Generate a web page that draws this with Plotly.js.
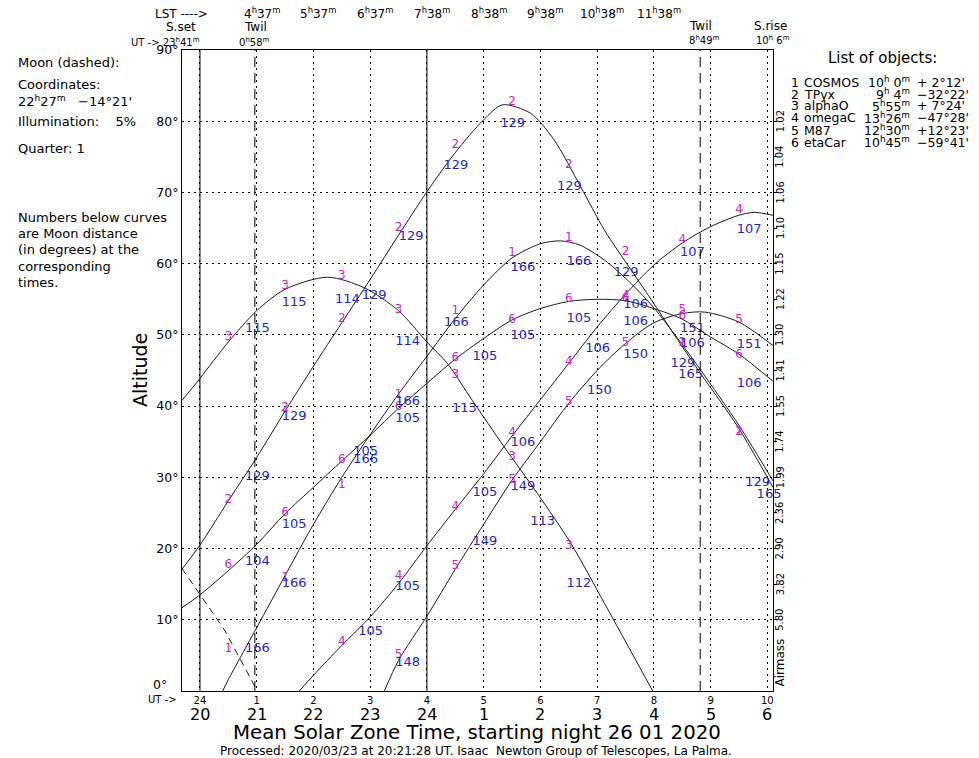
<!DOCTYPE html>
<html><head><meta charset="utf-8">
<script src="https://cdn.plot.ly/plotly-3.0.1.min.js"></script>
<style>html,body{margin:0;padding:0;background:#fff}#chart{width:979px;height:758px}</style>
</head><body><div id="chart"></div>
<script>
// ---------------- data ----------------
const utTicks = [0,1,2,3,4,5,6,7,8,9,10];
const utTickText = ['24','1','2','3','4','5','6','7','8','9','10'];
const localTimeText = ['20','21','22','23','24','1','2','3','4','5','6'];
const lstUT = [1,2,3,4,5,6,7,8];
const lstText = ['4<sup>h</sup>37<sup>m</sup>','5<sup>h</sup>37<sup>m</sup>','6<sup>h</sup>37<sup>m</sup>','7<sup>h</sup>38<sup>m</sup>',
                 '8<sup>h</sup>38<sup>m</sup>','9<sup>h</sup>38<sup>m</sup>','10<sup>h</sup>38<sup>m</sup>','11<sup>h</sup>38<sup>m</sup>'];
const altTicks = [0,10,20,30,40,50,60,70,80,90];
const altTickText = ['0°','10°','20°','30°','40°','50°','60°','70°','80°','90°'];
const airmassAlt = [80,75,70,65,60,55,50,45,40,35,30,25,20,15,10];
const airmassText = ['1.02','1.04','1.06','1.10','1.15','1.22','1.30','1.41','1.55','1.74','1.99','2.36','2.90','3.82','5.80'];
const sunsetUT = -0.317, sunriseUT = 10.1, twilEveUT = 0.967, twilMornUT = 8.817;
const midnightLines = [0, 4];

const objNum  = ['1','2','3','4','5','6'];
const objName = ['COSMOS','TPyx','alphaO','omegaC','M87','etaCar'];
const objRA   = ['10<sup>h</sup> 0<sup>m</sup>','9<sup>h</sup> 4<sup>m</sup>','5<sup>h</sup>55<sup>m</sup>','13<sup>h</sup>26<sup>m</sup>','12<sup>h</sup>30<sup>m</sup>','10<sup>h</sup>45<sup>m</sup>'];
const objDec  = ["+ 2°12'","−32°22'","+ 7°24'","−47°28'","+12°23'","−59°41'"];

// altitude curves (UT hours, degrees)
const ut1  = [0.4,0.5,1.0,1.5,2.0,2.5,3.0,3.5,4.0,4.5,5.0,5.5,6.0,6.36,6.7,7.13,7.6,8.0,8.42,8.83,9.5,10.1];
const alt1 = [0,1.6,8.9,16.2,23.4,30.0,36.0,41.7,47.0,52.3,57.0,60.8,62.8,63.2,62.6,60.5,57.2,53.8,49.5,45.0,37.3,29.5];
const ut2  = [-0.317,0,0.5,1.0,1.5,2.0,2.5,3.0,3.5,4.0,4.5,5.0,5.33,5.83,6.24,6.71,7.13,7.6,8.0,8.42,8.83,9.48,10.1];
const alt2 = [17.1,20.5,26.7,32.8,39.3,45.6,51.7,57.8,64.0,70.1,75.6,80.2,82.3,81.1,77.4,70.8,64.7,59.1,54.4,49.3,44.5,37.1,28.6];
const ut3  = [-0.317,0,0.5,1.0,1.5,2.25,2.9,3.5,4.0,4.36,4.8,5.36,5.95,6.54,7.13,7.98];
const alt3 = [40.8,43.9,49.0,53.4,56.4,58.1,56.6,53.4,49.0,46.0,40.8,34.3,27.7,20.7,12.3,0];
const ut4  = [1.75,2.0,2.5,3.0,3.5,4.0,4.5,5.0,5.5,6.0,6.5,7.0,7.5,8.0,8.5,9.0,9.5,9.77,10.1];
const alt4 = [0,2.2,6.4,10.4,15.1,20.4,25.5,30.5,35.8,40.9,46.0,51.1,55.7,59.8,62.9,65.2,66.8,67.2,66.8];
const ut5  = [3.25,3.5,4.0,4.5,5.0,5.5,6.0,6.5,7.0,7.5,8.0,8.5,8.9,9.5,10.1];
const alt5 = [0,4.3,10.5,17.1,23.4,29.6,35.0,40.4,45.0,48.8,51.7,53.0,53.2,51.8,48.5];
const ut6  = [-0.317,0,0.5,1.0,1.5,2.0,2.5,3.0,3.5,4.0,4.5,5.0,5.5,6.0,6.5,7.0,7.5,8.0,8.5,9.0,9.5,10.1];
const alt6 = [11.7,13.5,16.9,20.6,24.9,28.6,32.3,35.9,39.7,43.2,46.6,49.5,52.1,53.7,54.7,55.0,54.8,53.7,52.2,49.7,47.3,43.5];
const utMoon  = [-0.317,0,0.43,0.72,1.01];
const altMoon = [17.2,13.5,8.6,4.3,0];

// object-number labels along curves
const lab1UT = [0.5,1.5,2.5,3.5,4.5,5.5,6.5,8.5,9.5];
const lab1Alt = [5.9,15.8,28.9,41.6,53.3,61.5,63.6,48.8,36.4];
const lab2UT = [0.5,1.5,2.5,3.5,4.5,5.5,6.5,7.5,8.5,9.5];
const lab2Alt = [26.8,39.7,52.2,65.0,76.7,82.7,73.9,61.7,48.8,36.4];
const lab3UT = [0.5,1.5,2.5,3.5,4.5,5.5,6.5];
const lab3Alt = [49.7,56.9,58.3,53.5,44.4,32.8,20.3];
const lab4UT = [2.5,3.5,4.5,5.5,6.5,7.5,8.5,9.5];
const lab4Alt = [6.9,16.1,25.9,36.2,46.2,55.4,63.3,67.5];
const lab5UT = [3.5,4.5,5.5,6.5,7.5,8.5,9.5];
const lab5Alt = [5.1,17.5,29.6,40.6,48.8,53.5,52.1];
const lab6UT = [0.5,1.5,2.5,3.5,4.5,5.5,6.5,7.5,8.5,9.5];
const lab6Alt = [17.7,25.0,32.5,39.9,46.7,52.1,55.1,55.1,52.6,47.2];

// Moon distance labels (degrees)
const moon1UT = [1.01,1.66,2.92,3.66,4.52,5.69,6.68,8.65,10.03];
const moon1Alt = [6.0,15.1,32.4,40.6,51.7,59.4,60.3,44.4,27.5];
const moon1Txt = ['166','166','166','166','166','166','166','165','165'];
const moon2UT = [1.01,1.66,3.07,3.72,4.51,5.51,6.51,7.51,8.51,9.83];
const moon2Alt = [30.1,38.5,55.5,63.8,73.7,79.7,70.8,58.7,46.0,29.2];
const moon2Txt = ['129','129','129','129','129','129','129','129','129','129'];
const moon3UT = [1.01,1.66,2.6,3.66,4.66,6.04,6.68];
const moon3Alt = [50.9,54.5,55.0,49.1,39.6,23.8,15.1];
const moon3Txt = ['115','115','114','114','113','113','112'];
const moon4UT = [3.01,3.66,5.02,5.69,7.01,7.68,8.68,9.68];
const moon4Alt = [8.3,14.6,27.9,34.8,48.1,54.2,61.5,64.7];
const moon4Txt = ['105','105','105','106','106','106','107','107'];
const moon5UT = [3.66,5.02,5.69,7.04,7.68,8.68,9.68];
const moon5Alt = [3.9,20.9,28.7,42.2,47.2,50.9,48.6];
const moon5Txt = ['148','149','149','150','150','151','151'];
const moon6UT = [1.01,1.66,2.92,3.66,5.02,5.69,6.68,7.68,8.68,9.68];
const moon6Alt = [18.2,23.3,33.6,38.2,46.9,49.9,52.3,51.9,48.8,43.2];
const moon6Txt = ['104','105','105','105','105','105','105','106','106','106'];

// ---------------- styling / build ----------------
const FONT = 'DejaVu Sans, Liberation Sans, sans-serif';
const MAG = '#cc22cc', BLUE = '#2626b8', LINE = '#1a1a1a';
const L = 182, R = 773, T = 50, B = 691;
const PX = x => (x - L) / (R - L);
const PY = y => (B - y) / (B - T);

const curves = [[ut1,alt1],[ut2,alt2],[ut3,alt3],[ut4,alt4],[ut5,alt5],[ut6,alt6]];
const labs = [[lab1UT,lab1Alt],[lab2UT,lab2Alt],[lab3UT,lab3Alt],[lab4UT,lab4Alt],[lab5UT,lab5Alt],[lab6UT,lab6Alt]];
const moons = [[moon1UT,moon1Alt,moon1Txt],[moon2UT,moon2Alt,moon2Txt],[moon3UT,moon3Alt,moon3Txt],
               [moon4UT,moon4Alt,moon4Txt],[moon5UT,moon5Alt,moon5Txt],[moon6UT,moon6Alt,moon6Txt]];

const traces = [];
curves.forEach(c => traces.push({type:'scatter', mode:'lines', x:c[0], y:c[1],
  line:{color:LINE, width:1, shape:'spline', smoothing:0.8}, hoverinfo:'skip'}));
traces.push({type:'scatter', mode:'lines', x:utMoon, y:altMoon,
  line:{color:LINE, width:1, dash:'7px,5px'}, hoverinfo:'skip'});
labs.forEach((l,i) => traces.push({type:'scatter', mode:'text', x:l[0], y:l[1],
  text:l[0].map(()=>objNum[i]), textposition:'middle center', cliponaxis:false,
  textfont:{family:FONT, size:12, color:MAG}, hoverinfo:'skip'}));
moons.forEach(m => traces.push({type:'scatter', mode:'text', x:m[0], y:m[1], text:m[2],
  textposition:'middle center', cliponaxis:false,
  textfont:{family:FONT, size:13, color:BLUE}, hoverinfo:'skip'}));
// dummy trace for the right (airmass) tick axis
traces.push({type:'scatter', mode:'markers', x:[5], y:[45], yaxis:'y2', marker:{opacity:0}, hoverinfo:'skip'});

const shapes = [];
midnightLines.forEach(u => shapes.push({type:'line', xref:'x', yref:'paper', x0:u, x1:u, y0:0, y1:1, line:{color:'#000', width:1}}));
[twilEveUT, twilMornUT].forEach(u => shapes.push({type:'line', xref:'x', yref:'paper', x0:u, x1:u, y0:0, y1:1, line:{color:'#000', width:1, dash:'10px,6px'}}));

const ann = [];
function A(x, y, text, opts) { ann.push(Object.assign({xref:'paper', yref:'paper', x:PX(x), y:PY(y), text, showarrow:false,
  xanchor:'center', yanchor:'middle', font:{family:FONT, size:12, color:'#000'}}, opts||{})); }

// header
A(181, 14, 'LST ---->');
lstUT.forEach((u,i) => ann.push({xref:'x', yref:'paper', x:u, y:PY(13), xshift:5, text:lstText[i], showarrow:false,
  xanchor:'center', yanchor:'middle', font:{family:FONT, size:12, color:'#000'}}));
A(181, 27, 'S.set');
A(255, 27, 'Twil');
A(165, 42, 'UT -> 23<sup>h</sup>41<sup>m</sup>', {font:{family:FONT, size:10, color:'#000'}});
A(254, 42, '0<sup>h</sup>58<sup>m</sup>', {font:{family:FONT, size:10, color:'#000'}});
A(700, 26, 'Twil');
A(704, 40, '8<sup>h</sup>49<sup>m</sup>', {font:{family:FONT, size:10, color:'#000'}});
A(770, 26, 'S.rise');
A(773, 40, '10<sup>h</sup> 6<sup>m</sup>', {font:{family:FONT, size:10, color:'#000'}});

// left notes
const lf = {family:FONT, size:13, color:'#000'};
A(16, 62, 'Moon (dashed):', {xanchor:'left', font:lf});
A(16, 84, 'Coordinates:', {xanchor:'left', font:lf});
A(16, 101, "22<sup>h</sup>27<sup>m</sup>   −14°21'", {xanchor:'left', font:lf});
A(16, 122, 'Illumination:    5%', {xanchor:'left', font:lf});
A(16, 148, 'Quarter: 1', {xanchor:'left', font:lf});
['Numbers below curves','are Moon distance','(in degrees) at the','corresponding','times.'].forEach((t,i) =>
  A(16, 218 + i*16, t, {xanchor:'left', font:lf}));

// object list
A(882, 58, 'List of objects:', {font:{family:FONT, size:15, color:'#000'}});
const rowY = [82, 94, 106, 118, 130, 142];
objNum.forEach((n,i) => {
  const f = {family:FONT, size:12.5, color:'#000'};
  A(795, rowY[i], n, {font:f});
  A(802, rowY[i], objName[i], {xanchor:'left', font:f});
  A(912, rowY[i], objRA[i], {xanchor:'right', font:f});
  A(915, rowY[i], objDec[i], {xanchor:'left', font:f});
});

// axis extras
A(140, 370, 'Altitude', {textangle:-90, font:{family:FONT, size:19, color:'#000'}});
A(162, 700, 'UT ->', {font:{family:FONT, size:10, color:'#000'}});
localTimeText.forEach((t,i) => ann.push({xref:'x', yref:'paper', x:utTicks[i], y:PY(714), text:t, showarrow:false,
  xanchor:'center', yanchor:'middle', font:{family:FONT, size:16, color:'#000'}}));
A(477, 732, 'Mean Solar Zone Time, starting night 26 01 2020', {font:{family:FONT, size:19.8, color:'#000'}});
A(476, 751, 'Processed: 2020/03/23 at 20:21:28 UT. Isaac  Newton Group of Telescopes, La Palma.', {font:{family:FONT, size:12, color:'#000'}});
A(169, 684, altTickText[0], {xanchor:'right', font:{family:FONT, size:12.5, color:'#000'}});

// airmass labels
airmassAlt.forEach((a,i) => ann.push({xref:'paper', yref:'y', x:PX(780), y:a, text:airmassText[i], textangle:-90,
  showarrow:false, xanchor:'center', yanchor:'middle', font:{family:FONT, size:10, color:'#000'}}));
ann.push({xref:'paper', yref:'y', x:PX(780), y:4.0, text:'Airmass', textangle:-90, showarrow:false,
  xanchor:'center', yanchor:'middle', font:{family:FONT, size:12, color:'#000'}});

const layout = {
  width:979, height:758,
  margin:{l:L, r:979-R, t:T, b:758-B, pad:0},
  paper_bgcolor:'#fff', plot_bgcolor:'#fff',
  font:{family:FONT, size:12, color:'#000'},
  showlegend:false, hovermode:false,
  xaxis:{range:[sunsetUT, sunriseUT], tickmode:'array', tickvals:utTicks, ticktext:utTickText,
    tickfont:{family:FONT, size:10}, ticks:'', showgrid:true, gridcolor:'#000', gridwidth:1, griddash:'2px,4px',
    showline:true, mirror:true, linecolor:'#000', linewidth:1, zeroline:false, fixedrange:true},
  yaxis:{range:[0,90], tickmode:'array', tickvals:altTicks.slice(1), ticktext:altTickText.slice(1),
    tickfont:{family:FONT, size:12.5}, ticks:'', showgrid:true, gridcolor:'#000', gridwidth:1, griddash:'2px,4px',
    showline:true, mirror:true, linecolor:'#000', linewidth:1, zeroline:false, fixedrange:true},
  yaxis2:{range:[0,90], overlaying:'y', side:'right', tickmode:'array', tickvals:airmassAlt,
    showticklabels:false, ticks:'outside', ticklen:3, tickcolor:'#000', showgrid:false, zeroline:false,
    showline:false, fixedrange:true},
  shapes, annotations:ann
};
Plotly.newPlot('chart', traces, layout, {staticPlot:true, displayModeBar:false});
</script></body></html>
